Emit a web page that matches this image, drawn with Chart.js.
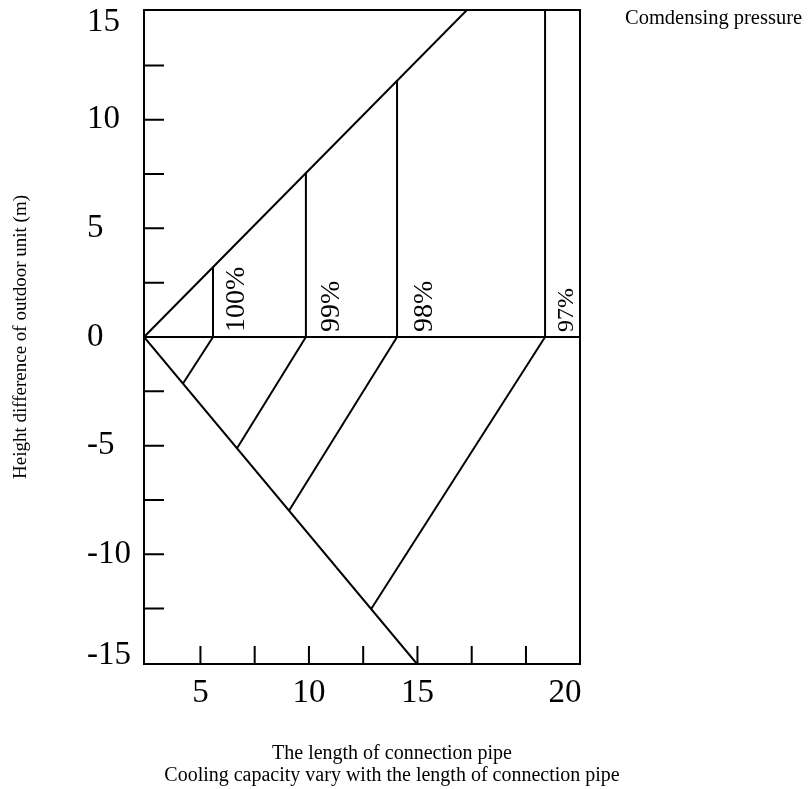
<!DOCTYPE html>
<html><head><meta charset="utf-8">
<script src="https://cdn.jsdelivr.net/npm/chart.js@4/dist/chart.umd.min.js"></script>
<style>html,body{margin:0;padding:0;background:#fff}#wrap{width:809px;height:789px;position:relative}</style>
</head><body><div id="wrap"><canvas id="c"></canvas></div>
<script>
// ---- data ----
const xMin = 2.40, xMax = 22.49, yMin = -15.05, yMax = 15.05;
const capacityLabels = ['100%', '99%', '98%', '97%'];
const limitPipeLength = [5.58, 9.86, 14.06, 20.88];
const limitUpperHeight = [3.22, 7.56, 11.80, 15.05];
const lowerEndPipeLength = [4.19, 6.68, 9.08, 12.86];
const lowerEndHeight = [-2.15, -5.13, -8.00, -12.53];
const upperBoundPipe = [2.40, 17.28];
const upperBoundHeight = [0, 15.05];
const lowerBoundPipe = [2.40, 14.98];
const lowerBoundHeight = [0, -15.05];
const zeroPipe = [2.40, 22.49];
const zeroHeight = [0, 0];
const xTickMarks = [5, 7.5, 10, 12.5, 15, 17.5, 20];
const xTickValues = [5, 10, 15, 21.8];
const xTickLabels = ['5', '10', '15', '20'];
const yTickMarks = [-12.5, -10, -7.5, -5, -2.5, 2.5, 5, 7.5, 10, 12.5];
const yTickValues = [-14.65, -10, -5, 0, 5, 10, 14.5];
const yTickLabels = ['-15', '-10', '-5', '0', '5', '10', '15'];

const SERIF = '"Liberation Serif", "Times New Roman", serif';

function seg(xs, ys) {
  return {
    data: xs.map((x, i) => ({ x: x, y: ys[i] })),
    showLine: true, borderColor: '#000', borderWidth: 2,
    pointRadius: 0, fill: false, tension: 0
  };
}
const datasets = [
  seg(upperBoundPipe, upperBoundHeight),
  seg(lowerBoundPipe, lowerBoundHeight),
  seg(zeroPipe, zeroHeight)
];
limitPipeLength.forEach((x, i) => {
  datasets.push(seg([x, x], [0, limitUpperHeight[i]]));
  datasets.push(seg([x, lowerEndPipeLength[i]], [0, lowerEndHeight[i]]));
});

const decor = {
  id: 'decor',
  afterDraw(chart) {
    const ctx = chart.ctx, a = chart.chartArea;
    const xs = chart.scales.x, ys = chart.scales.y;
    ctx.save();
    ctx.strokeStyle = '#000';
    ctx.lineWidth = 2;
    ctx.strokeRect(a.left, a.top, a.right - a.left, a.bottom - a.top);
    ctx.beginPath();
    yTickMarks.forEach(v => {
      const p = ys.getPixelForValue(v);
      ctx.moveTo(a.left, p); ctx.lineTo(a.left + 20, p);
    });
    xTickMarks.forEach(v => {
      const p = xs.getPixelForValue(v);
      ctx.moveTo(p, a.bottom); ctx.lineTo(p, a.bottom - 18);
    });
    ctx.stroke();

    // capacity labels (rotated)
    const sizes = [28, 28, 28, 24];
    const offs = [31, 33, 35, 28];
    ctx.fillStyle = '#000';
    capacityLabels.forEach((t, i) => {
      const px = xs.getPixelForValue(limitPipeLength[i]);
      const py = ys.getPixelForValue(0);
      ctx.save();
      ctx.translate(px + offs[i], py - 5);
      ctx.rotate(-Math.PI / 2);
      ctx.font = sizes[i] + 'px ' + SERIF;
      ctx.textAlign = 'left';
      ctx.textBaseline = 'alphabetic';
      ctx.fillText(t, 0, 0);
      ctx.restore();
    });

    // y title
    ctx.save();
    ctx.translate(21, (a.top + a.bottom) / 2);
    ctx.rotate(-Math.PI / 2);
    ctx.font = '19px ' + SERIF;
    ctx.textAlign = 'center';
    ctx.textBaseline = 'middle';
    ctx.fillText('Height difference of outdoor unit (m)', 0, 0);
    ctx.restore();

    ctx.font = '20.5px ' + SERIF;
    ctx.textAlign = 'left';
    ctx.textBaseline = 'alphabetic';
    ctx.fillText('Comdensing pressure', 625, 24);

    ctx.font = '20px ' + SERIF;
    ctx.textAlign = 'center';
    ctx.fillText('The length of connection pipe', 392, 759);
    ctx.fillText('Cooling capacity vary with the length of connection pipe', 392, 781);
    ctx.restore();
  }
};

new Chart(document.getElementById('c'), {
  type: 'scatter',
  data: { datasets: datasets },
  plugins: [decor],
  options: {
    responsive: true, maintainAspectRatio: false, animation: false,
    layout: { padding: { left: 87, top: 10, right: 229, bottom: 75 } },
    plugins: { legend: { display: false }, tooltip: { enabled: false } },
    scales: {
      x: {
        type: 'linear', min: xMin, max: xMax,
        grid: { display: false }, border: { display: false },
        afterBuildTicks: s => { s.ticks = xTickValues.map(v => ({ value: v })); },
        afterFit: s => { s.height = 50; s.paddingLeft = 0; s.paddingRight = 0; },
        ticks: {
          autoSkip: false, maxRotation: 0, padding: 2, color: '#000',
          font: { family: SERIF, size: 33 },
          callback: v => xTickLabels[xTickValues.indexOf(v)]
        }
      },
      y: {
        type: 'linear', min: yMin, max: yMax,
        grid: { display: false }, border: { display: false },
        afterBuildTicks: s => { s.ticks = yTickValues.map(v => ({ value: v })); },
        afterFit: s => { s.width = 57; s.paddingTop = 0; s.paddingBottom = 0; },
        ticks: {
          autoSkip: false, crossAlign: 'far', padding: 6, color: '#000',
          font: { family: SERIF, size: 33 },
          callback: v => yTickLabels[yTickValues.indexOf(v)]
        }
      }
    }
  }
});
</script>
</body></html>
